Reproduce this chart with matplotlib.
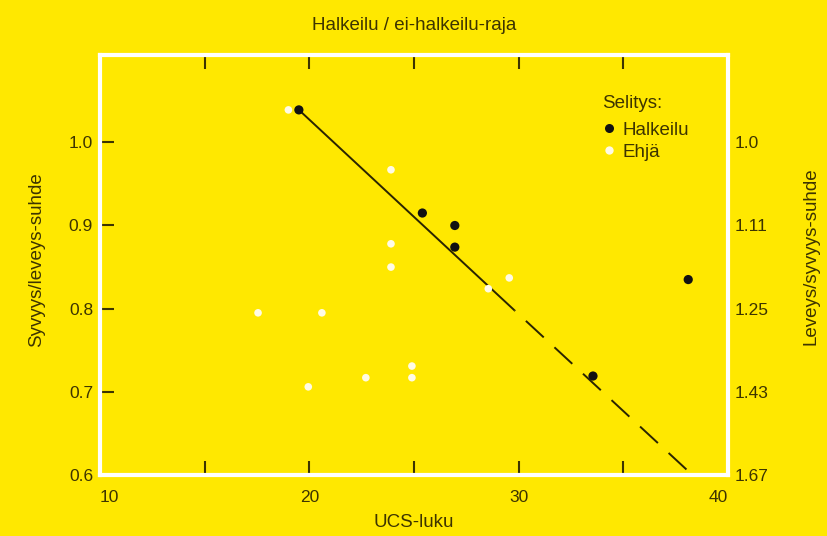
import matplotlib
matplotlib.use("Agg")
import matplotlib.pyplot as plt
from matplotlib.lines import Line2D

# Data
halkeilu_x = [19.5, 25.4, 26.95, 26.95, 38.1, 33.55]
halkeilu_y = [1.039, 0.915, 0.900, 0.874, 0.835, 0.719]
ehja_x = [19.0, 23.9, 23.9, 23.9, 17.55, 20.6, 19.95, 22.7, 24.9, 24.9, 28.55, 29.55]
ehja_y = [1.039, 0.967, 0.878, 0.850, 0.795, 0.795, 0.706, 0.717, 0.731, 0.717, 0.824, 0.837]
solid_x = [19.5, 29.8]
solid_y = [1.039, 0.798]
dashed_x = [29.8, 38.3]
dashed_y = [0.798, 0.600]
xtick_vals = [10, 20, 30, 40]
xtick_labels = ["10", "20", "30", "40"]
xminor_vals = [15, 20, 25, 30, 35]
ytick_vals = [0.6, 0.7, 0.8, 0.9, 1.0]
ytick_labels = ["0.6", "0.7", "0.8", "0.9", "1.0"]
yminor_vals = [0.7, 0.8, 0.9, 1.0]
ytick_right_labels = ["1.67", "1.43", "1.25", "1.11", "1.0"]

YELLOW = "#FFE800"
TXT = "#3d3400"
LINE = "#2a2400"
font = ["Liberation Sans", "DejaVu Sans"]
plt.rcParams['font.family'] = font

fig = plt.figure(figsize=(8.28, 5.36), dpi=100, facecolor=YELLOW)
ax = fig.add_axes([100/828, 61/536, 628/828, 420/536])
ax.set_facecolor(YELLOW)
ax.set_xlim(10, 40)
ax.set_ylim(0.6, 1.105)
ax.xaxis.remove_overlapping_locs = False
ax.yaxis.remove_overlapping_locs = False

for s in ax.spines.values():
    s.set_color("white")
    s.set_linewidth(3)
    s.set_zorder(5)

ax.plot(solid_x, solid_y, color=LINE, lw=1.4, solid_capstyle="butt", zorder=2)
ax.plot(dashed_x, dashed_y, color=LINE, lw=1.4, linestyle=(12, (12.5, 7.5)),
        dash_capstyle="butt", zorder=2)
ax.scatter(ehja_x, ehja_y, s=30, color="#fffbe6", edgecolors="none", zorder=3)
ax.scatter(halkeilu_x, halkeilu_y, s=44, color="#111111", edgecolors="none", zorder=4)

# x ticks
ax.set_xticks(xtick_vals)
ax.set_xticklabels(xtick_labels)
ax.set_xticks(xminor_vals, minor=True)
ax.tick_params(axis="x", which="major", length=0, pad=11, labelsize=12.5, labelcolor=TXT,
               top=False)
ax.tick_params(axis="x", which="minor", direction="in", length=10, width=1.5, color=TXT,
               top=True, bottom=True)
xl = ax.get_xticklabels()
xl[0].set_horizontalalignment("left")
xl[-1].set_horizontalalignment("right")

ax.set_yticks(ytick_vals)
ax.set_yticklabels(ytick_labels)
ax.set_yticks(yminor_vals, minor=True)
ax.tick_params(axis="y", which="major", length=0, pad=5, labelsize=12.5, labelcolor=TXT)
ax.tick_params(axis="y", which="minor", direction="in", length=10, width=1.5, color=TXT,
               left=True, right=True)

ax2 = ax.twinx()
ax2.set_ylim(ax.get_ylim())
ax2.set_yticks(ytick_vals)
ax2.set_yticklabels(ytick_right_labels)
ax2.tick_params(axis="y", length=0, pad=5, labelsize=12.5, labelcolor=TXT)
for s in ax2.spines.values():
    s.set_visible(False)

ax.set_xlabel("UCS-luku", fontsize=13.5, color=TXT)
ax.xaxis.set_label_coords(0.5, -0.092)
ax.set_ylabel("Syvyys/leveys-suhde", fontsize=13.5, color=TXT)
ax.yaxis.set_label_coords(-0.087, 0.512)
ax2.set_ylabel("Leveys/syvyys-suhde", fontsize=13.5, color=TXT)
ax2.yaxis.set_label_coords(1.118, 0.52)
fig.text(414/828, 1 - 26/536, "Halkeilu / ei-halkeilu-raja", fontsize=13.5, color=TXT,
         ha="center", va="center")

handles = [Line2D([], [], marker="o", ls="none", color="#111111", markersize=6.5, markeredgewidth=0),
           Line2D([], [], marker="o", ls="none", color="#fffbe6", markersize=6, markeredgewidth=0)]
leg = ax.legend(handles, ["Halkeilu", "Ehjä"], title="Selitys:", loc="upper left",
                bbox_to_anchor=(0.80, 0.905), frameon=False, fontsize=13.5,
                title_fontsize=13.5, handlelength=0.7, handletextpad=0.35,
                labelspacing=0.25, borderaxespad=0, borderpad=0)
leg._legend_box.align = "left"
leg._legend_box.sep = 7
leg.get_title().set_color(TXT)
for t in leg.get_texts():
    t.set_color(TXT)

fig.savefig("out.png", dpi=100, facecolor=YELLOW)
